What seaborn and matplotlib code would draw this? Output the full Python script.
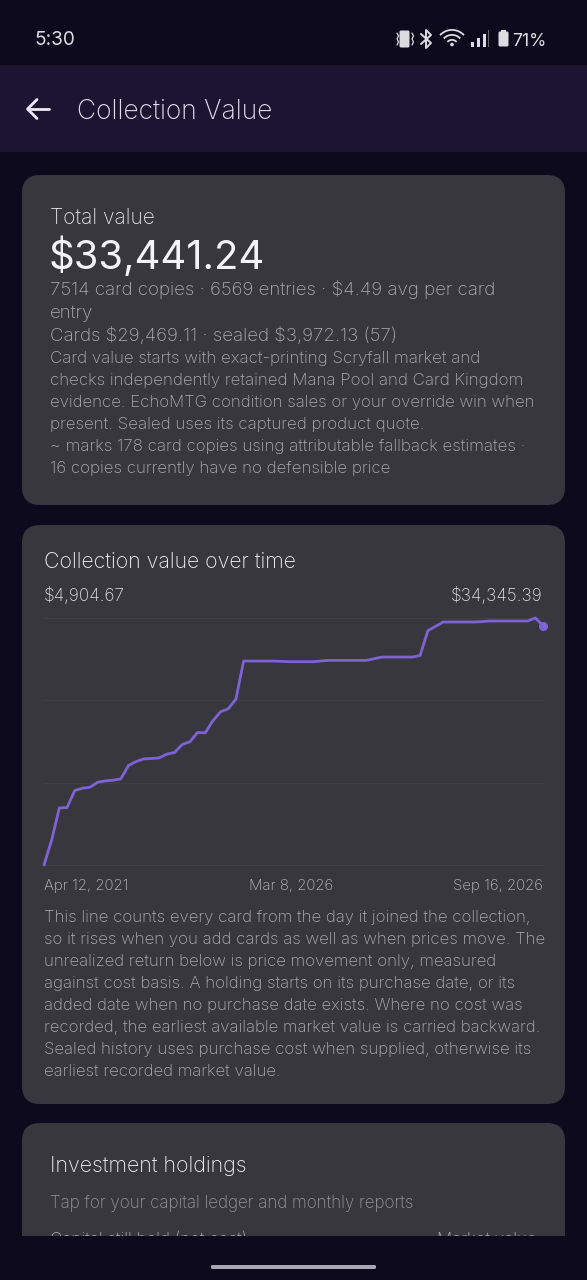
import matplotlib
matplotlib.use("Agg")
import matplotlib.pyplot as plt
from matplotlib.patches import FancyBboxPatch, Rectangle, Circle, Wedge
import seaborn as sns
import pandas as pd

sns.set_theme(style="dark")
plt.rcParams['font.family'] = ['Inter', 'DejaVu Sans']
plt.rcParams['text.parse_math'] = False

W, H = 587, 1280
BG = '#0c0a1c'; BAR = '#1b1531'; CARD = '#38373e'
LINE = '#7f62d6'; GRID = '#403f46'
WHITE = '#f0eff3'; GREY = '#acabb2'; GREY2 = '#bdbcc2'

# chart data: collection value in dollars, one per evenly spaced sample
values = [4904.67, 7889, 11708, 11748, 13777, 14055, 14175, 14771, 14931, 15010, 15169,
          16761, 17238, 17556, 17596, 17676, 18113, 18312, 19267, 19585, 20699, 20660,
          22092, 23166, 23524, 24678, 29213, 29213, 29213, 29213, 29213, 29173, 29134,
          29134, 29134, 29134, 29213, 29293, 29293, 29293, 29293, 29293, 29293, 29492,
          29691, 29691, 29691, 29691, 29691, 29890, 32834, 33351, 33868, 33868, 33868,
          33868, 33868, 33908, 33988, 33988, 33988, 33988, 33988, 33988, 34345, 33441.24]
y_min, y_max = 4904.67, 34345.39
date_labels = ['Apr 12, 2021', 'Mar 8, 2026', 'Sep 16, 2026']

summary_lines = [
    ('7514 card copies · 6569 entries · $4.49 avg per card', 295, 18.7),
    ('entry', 318, 18.7),
    ('Cards $29,469.11 · sealed $3,972.13 (57)', 341, 18.7),
    ('Card value starts with exact-printing Scryfall market and', 363, 16.9),
    ('checks independently retained Mana Pool and Card Kingdom', 385, 16.9),
    ('evidence. EchoMTG condition sales or your override win when', 407, 16.8),
    ('present. Sealed uses its captured product quote.', 429, 16.9),
    ('~ marks 178 card copies using attributable fallback estimates ·', 451, 16.9),
    ('16 copies currently have no defensible price', 473, 16.9),
]
note_lines = [
    'This line counts every card from the day it joined the collection,',
    'so it rises when you add cards as well as when prices move. The',
    'unrealized return below is price movement only, measured',
    'against cost basis. A holding starts on its purchase date, or its',
    'added date when no purchase date exists. Where no cost was',
    'recorded, the earliest available market value is carried backward.',
    'Sealed history uses purchase cost when supplied, otherwise its',
    'earliest recorded market value.',
]

fig = plt.figure(figsize=(W/100, H/100), dpi=100, facecolor=BG)
bg = fig.add_axes([0, 0, 1, 1])
bg.set_xlim(0, W); bg.set_ylim(H, 0); bg.axis('off')

def T(x, y, s, px, color=WHITE, ha='left', weight='light', z=5):
    bg.text(x, y, s, fontsize=px*0.72, color=color, ha=ha, va='baseline', weight=weight, zorder=z)

def card(y0, y1):
    r = 18
    bg.add_patch(FancyBboxPatch((22+r, y0+r), 543-2*r, y1-y0-2*r,
                                boxstyle=f'round,pad={r},rounding_size={r}',
                                fc=CARD, ec='none', zorder=1))

# app bar
bg.add_patch(Rectangle((0, 65), W, 87, fc=BAR, ec='none', zorder=1))
T(34, 45, '5:30', 19, '#dcdce0', weight='normal')
T(77, 119, 'Collection Value', 26.4, '#e4dff0')
bg.plot([28, 49], [109, 109], color='#ece8f5', lw=2.0, zorder=5, solid_capstyle='round')
bg.plot([37, 27.5, 37], [99.5, 109, 118.5], color='#ece8f5', lw=2.0, zorder=5, solid_capstyle='round')

# status icons
ic = '#dcdce0'
bg.add_patch(FancyBboxPatch((400, 31), 9, 16, boxstyle='round,pad=0.5,rounding_size=1.5', fc=ic, ec='none', zorder=5))
for xa in (397, 412):
    bg.plot([xa, xa+1.5, xa, xa+1.5, xa], [33, 36, 39, 42, 45], color=ic, lw=0.9, zorder=5)
bg.plot([421, 431, 426, 426, 431, 421], [34, 43, 48, 30, 35, 44], color=ic, lw=1.4, zorder=5)
for r_ in (17, 12, 7):
    bg.add_patch(Wedge((452, 46), r_, 222, 318, width=1.8, fc=ic, ec='none', zorder=5))
bg.add_patch(Circle((452, 44.5), 1.8, fc=ic, ec='none', zorder=5))
for xa, ya in ((471, 42), (477, 38), (483, 34)):
    bg.add_patch(Rectangle((xa, ya), 3.2, 47-ya, fc=ic, ec='none', zorder=5))
bg.add_patch(Rectangle((488, 30), 1, 17, fc='#66656b', ec='none', zorder=5))
bg.add_patch(FancyBboxPatch((499, 32), 9, 14, boxstyle='round,pad=0.5,rounding_size=1.5', fc=ic, ec='none', zorder=5))
bg.add_patch(Rectangle((501, 29.5), 5, 3, fc=ic, ec='none', zorder=5))
T(512, 46, '71%', 17.5, '#dcdce0', weight='normal')

# card 1
card(175, 505)
T(49.5, 224, 'Total value', 21, '#e2e1e6')
T(48.5, 269, '$33,441.24', 40, '#f4f3f7', weight='normal')
for s, y, px in summary_lines:
    T(50, y, s, px, GREY)

# card 2
card(525, 1104)
T(44, 568, 'Collection value over time', 21.3, WHITE)
T(44, 601, f'${y_min:,.2f}', 17.2, '#e2e1e6')
T(543, 601, f'${y_max:,.2f}', 17.2, '#e2e1e6', ha='right')

ax = fig.add_axes([44/W, 1-865/H, (543-44)/W, (865-618)/H])
ax.patch.set_alpha(0)
df = pd.DataFrame({'sample': range(len(values)), 'value': values})
sns.lineplot(data=df, x='sample', y='value', ax=ax, color=LINE, lw=2.0, clip_on=False, zorder=4, errorbar=None)
ax.plot(df['sample'].iloc[-1], df['value'].iloc[-1], 'o', color=LINE, ms=5.5, clip_on=False, zorder=5)
ax.set_xlim(0, len(values)-1)
ax.set_ylim(y_min, y_max)
ax.set_yticks([y_min + (y_max-y_min)*k/3 for k in range(4)])
ax.set_xticks([0, (len(values)-1)/2, len(values)-1])
ax.tick_params(length=0, labelleft=False, labelbottom=False)
ax.set_xlabel(''); ax.set_ylabel('')
ax.grid(False)
ax.yaxis.grid(True, color=GRID, lw=0.8)
for s in ax.spines.values():
    s.set_visible(False)
for g in ax.get_ygridlines():
    g.set_clip_on(False)

T(44, 890, date_labels[0], 15, GREY2)
T(291, 890, date_labels[1], 15, GREY2, ha='center')
T(543, 890, date_labels[2], 15, GREY2, ha='right')
for i, s in enumerate(note_lines):
    T(44, 922 + i*22, s, 16.8, GREY)

# card 3, cut by the bottom edge of the scrolling area
card(1123, 1300)
T(50, 1172, 'Investment holdings', 21.4, WHITE)
T(50, 1208, 'Tap for your capital ledger and monthly reports', 17, '#96959c')
T(50, 1245, 'Capital still held (net cost)', 17, GREY)
T(537, 1245, 'Market value', 17, GREY, ha='right')
bg.add_patch(Rectangle((0, 1236), W, 44, fc=BG, ec='none', zorder=8))
bg.add_patch(FancyBboxPatch((212, 1266), 163, 2, boxstyle='round,pad=1,rounding_size=1.5', fc='#a9a6b4', ec='none', zorder=9))

fig.savefig('out.png', dpi=100, facecolor=BG)
